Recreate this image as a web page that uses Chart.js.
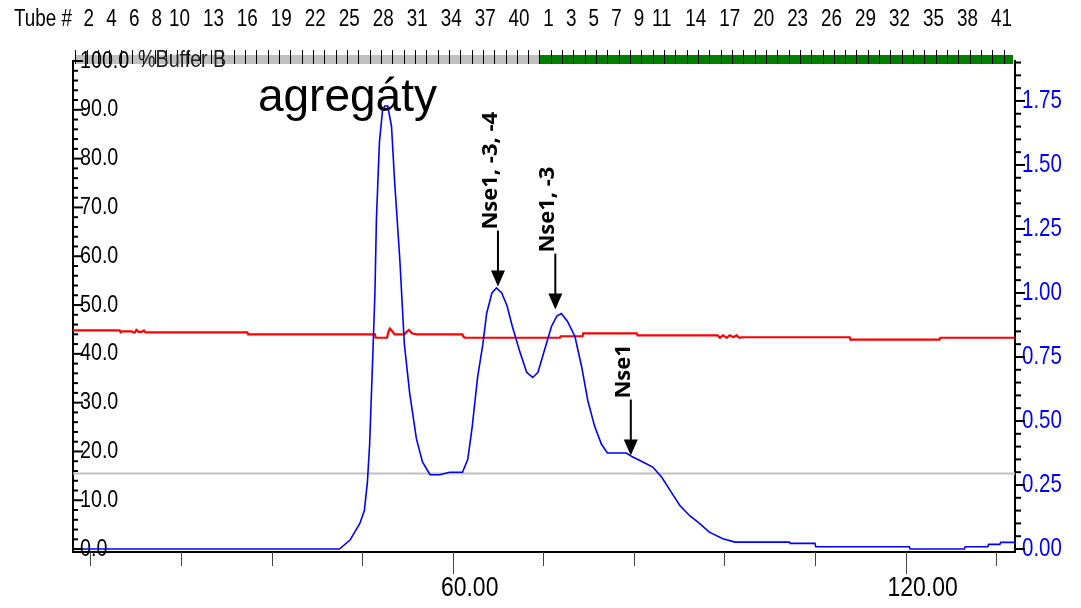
<!DOCTYPE html>
<html>
<head>
<meta charset="utf-8">
<script src="https://cdn.jsdelivr.net/npm/chart.js@4.4.1/dist/chart.umd.min.js"></script>
<style>
  html, body { margin: 0; padding: 0; background: #fff; }
  #wrap { width: 1081px; height: 608px; }
</style>
</head>
<body>
<div id="wrap"><canvas id="chrom" width="1081" height="608"></canvas></div>
<script>
// === DATA ===
// UV 280 nm (right axis, AU)
const uvMl = [9.7, 45.0, 46.4, 47.7, 48.3, 48.7, 49.0, 49.4, 49.7, 49.9,
  50.3, 50.7, 51.0, 51.4, 51.9, 52.3, 53.0, 53.6, 54.3, 55.2,
  56.0, 57.0, 58.3, 59.6, 61.3, 62.0, 62.6, 63.3, 64.0, 64.5,
  65.2, 65.8, 66.5, 67.2, 67.9, 68.9, 69.8, 70.6, 71.3, 72.2,
  73.1, 73.8, 74.4, 75.2, 76.2, 77.1, 77.9, 78.8, 79.7, 80.5,
  83.0, 83.8, 85.2, 86.5, 87.7, 89.0, 90.1, 91.4, 92.7, 94.0,
  95.8, 97.4, 104.6, 104.7, 108.0, 108.1, 120.5, 120.6, 127.8, 127.9,
  130.9, 131.0, 132.5, 132.6, 134.5];
const uvAU = [0, 0, 0.035, 0.10, 0.15, 0.26, 0.41, 0.74, 1.00, 1.29,
  1.59, 1.71, 1.73, 1.73, 1.65, 1.44, 1.13, 0.80, 0.61, 0.43,
  0.34, 0.29, 0.29, 0.30, 0.30, 0.35, 0.48, 0.67, 0.80, 0.92,
  1.00, 1.02, 1.00, 0.95, 0.87, 0.77, 0.69, 0.67, 0.69, 0.78,
  0.87, 0.91, 0.92, 0.89, 0.83, 0.71, 0.58, 0.48, 0.41, 0.375,
  0.375, 0.36, 0.34, 0.32, 0.28, 0.22, 0.17, 0.13, 0.10, 0.066,
  0.04, 0.027, 0.027, 0.022, 0.022, 0.009, 0.009, 0, 0, 0.009,
  0.009, 0.018, 0.018, 0.026, 0.026];

// conductivity (left axis)
const condMl = [9.7, 15.9, 16.0, 16.2, 17.5, 17.7, 17.9, 18.1, 18.4, 18.8,
  19.1, 19.3, 32.8, 32.9, 49.7, 49.8, 51.3, 51.5, 51.7, 52.0,
  52.3, 53.6, 53.9, 54.2, 54.6, 55.2, 61.3, 61.4, 61.6, 74.2,
  74.3, 77.2, 77.3, 84.4, 84.5, 95.1, 95.4, 95.8, 96.3, 96.7,
  97.2, 97.6, 98.0, 98.3, 112.6, 112.7, 124.5, 124.6, 134.5];
const condVal = [44.8, 44.8, 44.4, 44.6, 44.6, 44.4, 44.4, 44.9, 44.5, 44.5,
  44.8, 44.4, 44.4, 44.0, 44.0, 43.3, 43.3, 44.6, 45.2, 44.6,
  44.0, 44.0, 44.5, 44.9, 44.2, 44.0, 44.0, 43.6, 43.3, 43.3,
  43.6, 43.6, 44.2, 44.2, 43.8, 43.8, 43.3, 43.8, 43.3, 43.8,
  43.4, 43.8, 43.3, 43.4, 43.4, 42.9, 42.9, 43.3, 43.3];

// % buffer B (left axis)
const concMl = [9.7, 134.5];
const concB = [15.5, 15.5];

// fractions (ml)
const fracRuns = [
  { start: 10.0, count: 41, color: '#c0c0c0', labelAt: 0.8 },
  { start: 71.5, count: 42, color: '#008000', labelAt: 0.2 }
];
const fracWidth = 1.5;
const tubeLabels1 = [2, 4, 6, 8, 10, 13, 16, 19, 22, 25, 28, 31, 34, 37, 40];
const tubeLabels2 = [1, 3, 5, 7, 9, 11, 14, 17, 20, 23, 26, 29, 32, 35, 38, 41];

// axes
const xMin = 9.7, xMax = 134.5;
const xTicks = [12, 24, 36, 48, 60, 72, 84, 96, 108, 120, 132];
const xLabeled = [60, 120];

// peak labels (arrow tip on UV trace)
const notes = [
  { text: 'Nse1, -3, -4', ml: 66.0, au: 1.025 },
  { text: 'Nse1, -3', ml: 73.6, au: 0.935 },
  { text: 'Nse1', ml: 83.6, au: 0.365 }
];
const bigNote = { text: 'agregáty', ml: 34.2, val: 89.8 };

const SANS = '"Liberation Sans", Arial, sans-serif';
const SQUEEZE = 0.82;   // the original uses a narrow face

// top axis ticks: one per labelled tube
const topTicks = [];
const topText = [];
tubeLabels1.forEach(n => { topTicks.push(fracRuns[0].start + (n - fracRuns[0].labelAt) * fracWidth); topText.push(String(n)); });
tubeLabels2.forEach(n => { topTicks.push(fracRuns[1].start + (n - fracRuns[1].labelAt) * fracWidth); topText.push(String(n)); });

const leftTicks = [];
for (let i = 0; i <= 50; i++) leftTicks.push(i * 2);
const rightTicks = [];
for (let i = 0; i <= 38; i++) rightTicks.push(Math.round(i * 5) / 100);

const pts = (xs, ys) => xs.map((v, i) => ({ x: v, y: ys[i] }));

function narrowText(ctx, text, x, y, size, align, color) {
  ctx.save();
  ctx.font = size + 'px ' + SANS;
  ctx.fillStyle = color || '#000';
  ctx.textAlign = align;
  ctx.textBaseline = 'middle';
  ctx.translate(x, y);
  ctx.scale(SQUEEZE, 1);
  ctx.fillText(text, 0, 0);
  ctx.restore();
}

// === DECOR PLUGIN ===
const decor = {
  id: 'decor',
  beforeDraw(chart) {
    const { ctx, scales: { x } } = chart;
    ctx.save();
    // fraction strip
    const y0 = 55, y1 = 64;
    fracRuns.forEach(r => {
      const a = x.getPixelForValue(r.start);
      const b = Math.min(x.getPixelForValue(r.start + r.count * fracWidth), chart.chartArea.right - 2);
      ctx.fillStyle = r.color;
      ctx.fillRect(a, y0, b - a, y1 - y0);
    });
    ctx.strokeStyle = '#000';
    ctx.lineWidth = 1;
    fracRuns.forEach(r => {
      for (let k = 0; k < r.count; k++) {
        const p = Math.round(x.getPixelForValue(r.start + k * fracWidth)) + 0.5;
        ctx.beginPath(); ctx.moveTo(p, 50); ctx.lineTo(p, y1); ctx.stroke();
      }
    });
    ctx.restore();
  },
  beforeDatasetsDraw(chart) {
    const { ctx, chartArea: a, scales } = chart;
    const { x, y, y2, top } = scales;
    // tick labels
    narrowText(ctx, 'Tube #', 14, 20, 23, 'left');
    top.ticks.forEach((t, i) => narrowText(ctx, topText[i], top.getPixelForValue(t.value), 20, 23, 'center'));
    y.ticks.forEach(t => {
      if (t.value % 10 === 0) narrowText(ctx, t.value.toFixed(1), a.left + 7, y.getPixelForValue(t.value), 24, 'left');
    });
    narrowText(ctx, '%Buffer B', 138, 60, 24, 'left', '#222');
    y2.ticks.forEach((t, i) => {
      if (i % 5 === 0) narrowText(ctx, t.value.toFixed(2), a.right + 7, y2.getPixelForValue(t.value), 25, 'left', '#0000ff');
    });
    x.ticks.forEach(t => {
      if (xLabeled.includes(t.value)) narrowText(ctx, t.value.toFixed(2), x.getPixelForValue(t.value) + 17, 588, 28, 'center');
    });
  },
  afterDraw(chart) {
    const { ctx, chartArea: a, scales } = chart;
    const { x, y, y2 } = scales;
    ctx.save();
    ctx.strokeStyle = '#000';
    ctx.lineWidth = 2;
    // axis tick marks
    y.ticks.forEach(t => {
      const p = y.getPixelForValue(t.value);
      const len = t.value % 10 === 0 ? 10 : 5;
      ctx.beginPath(); ctx.moveTo(a.left, p); ctx.lineTo(a.left + len, p); ctx.stroke();
    });
    y2.ticks.forEach((t, i) => {
      const p = y2.getPixelForValue(t.value);
      const len = i % 5 === 0 ? 10 : 6;
      ctx.beginPath(); ctx.moveTo(a.right, p); ctx.lineTo(a.right + len, p); ctx.stroke();
    });
    ctx.lineWidth = 1;
    ctx.strokeStyle = '#444';
    x.ticks.forEach(t => {
      const p = Math.round(x.getPixelForValue(t.value)) + 0.5;
      const len = xLabeled.includes(t.value) ? 22 : 14;
      ctx.beginPath(); ctx.moveTo(p, a.bottom); ctx.lineTo(p, a.bottom + len); ctx.stroke();
    });

    // peak annotations
    ctx.strokeStyle = '#000';
    ctx.fillStyle = '#000';
    notes.forEach(n => {
      const px = x.getPixelForValue(n.ml);
      const py = y2.getPixelForValue(n.au);
      ctx.lineWidth = 2;
      ctx.beginPath(); ctx.moveTo(px, py - 56); ctx.lineTo(px, py - 14); ctx.stroke();
      ctx.beginPath();
      ctx.moveTo(px - 7, py - 16); ctx.lineTo(px + 7, py - 16); ctx.lineTo(px, py); ctx.closePath();
      ctx.fill();
      ctx.save();
      ctx.translate(px, py - 57);
      ctx.rotate(-Math.PI / 2);
      ctx.font = 'bold 22px "Open Sans", "Noto Sans", sans-serif';
      ctx.textAlign = 'left';
      ctx.textBaseline = 'alphabetic';
      ctx.fillText(n.text, 0, -1);
      ctx.restore();
    });
    ctx.font = '46px ' + SANS;
    ctx.textAlign = 'left';
    ctx.textBaseline = 'alphabetic';
    ctx.fillText(bigNote.text, x.getPixelForValue(bigNote.ml), y.getPixelForValue(bigNote.val));
    ctx.restore();
  }
};

// === CHART ===
Chart.defaults.font.family = SANS;
Chart.defaults.color = '#000';

const noGrid = { display: false, drawTicks: false };

new Chart(document.getElementById('chrom'), {
  type: 'line',
  data: {
    datasets: [
      { label: 'UV', data: pts(uvMl, uvAU), yAxisID: 'y2', borderColor: '#0000ff', borderWidth: 1.6, order: 0 },
      { label: 'Cond', data: pts(condMl, condVal), yAxisID: 'y', borderColor: '#ff0000', borderWidth: 2.2, order: 1 },
      { label: 'Conc B', data: pts(concMl, concB), yAxisID: 'y', borderColor: '#c0c0c0', borderWidth: 2, order: 2 }
    ]
  },
  options: {
    responsive: false,
    animation: false,
    devicePixelRatio: 1,
    events: [],
    layout: { padding: 0 },
    elements: { point: { radius: 0 }, line: { tension: 0 } },
    plugins: { legend: { display: false }, tooltip: { enabled: false } },
    scales: {
      x: {
        type: 'linear', position: 'bottom', min: xMin, max: xMax, bounds: 'data',
        afterBuildTicks: s => { s.ticks = xTicks.map(v => ({ value: v })); },
        afterFit: s => { s.height = 56; },
        grid: noGrid,
        border: { display: true, color: '#000', width: 2 },
        ticks: { display: false }
      },
      top: {
        type: 'linear', position: 'top', min: xMin, max: xMax, bounds: 'data',
        afterBuildTicks: s => { s.ticks = topTicks.map(v => ({ value: v })); },
        afterFit: s => { s.height = 61; },
        grid: noGrid,
        border: { display: false },
        ticks: { display: false }
      },
      y: {
        type: 'linear', position: 'left', min: -0.6, max: 100, bounds: 'data',
        afterBuildTicks: s => { s.ticks = leftTicks.map(v => ({ value: v })); },
        afterFit: s => { s.width = 73; },
        grid: noGrid,
        border: { display: true, color: '#000', width: 2 },
        ticks: { display: false }
      },
      y2: {
        type: 'linear', position: 'right', min: -0.0117, max: 1.906, bounds: 'data',
        afterBuildTicks: s => { s.ticks = rightTicks.map(v => ({ value: v })); },
        afterFit: s => { s.width = 66; },
        grid: noGrid,
        border: { display: true, color: '#000', width: 2 },
        ticks: { display: false }
      }
    }
  },
  plugins: [decor]
});
</script>
</body>
</html>
